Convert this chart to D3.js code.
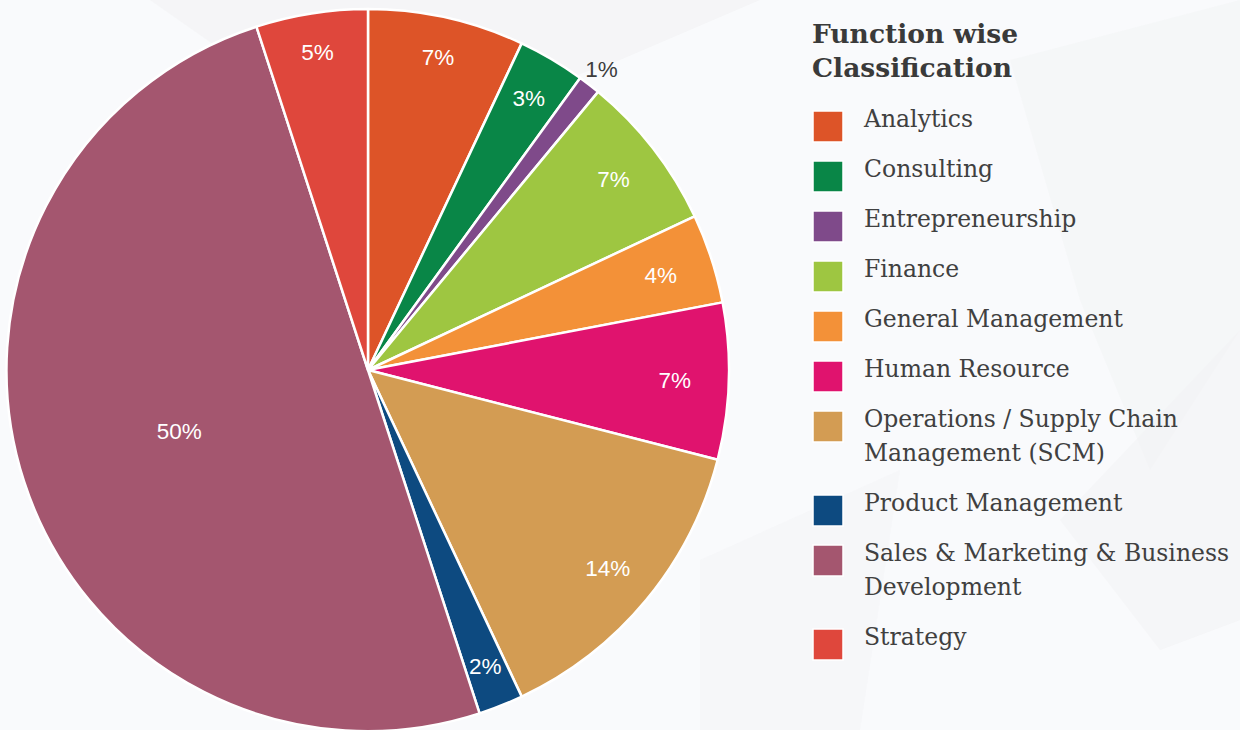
<!DOCTYPE html>
<html>
<head>
<meta charset="utf-8">
<script src="https://cdn.jsdelivr.net/npm/d3@7"></script>
<style>
  html, body { margin: 0; padding: 0; background: #f9fafc; }
  svg { display: block; }
</style>
</head>
<body>
<div id="chart"></div>
<script>
(() => {
    const W = 1240, H = 730;

    // data
    const categories = [
        "Analytics", "Consulting", "Entrepreneurship", "Finance", "General Management",
        "Human Resource", "Operations / Supply Chain Management (SCM)", "Product Management",
        "Sales & Marketing & Business Development", "Strategy"
    ];
    const shares = [7, 3, 1, 7, 4, 7, 14, 2, 50, 5];
    const colors = [
        "#dd5428", "#098647", "#7f4a8a", "#9ec641", "#f39138",
        "#e0136e", "#d39c53", "#0d4a80", "#a4566f", "#df473c"
    ];
    const titleLines = ["Function wise", "Classification"];

    const data = categories.map((c, i) => ({ name: c, value: shares[i], color: colors[i] }));

    const cx = 368, cy = 370, radius = 361;

    const svg = d3.select("#chart")
        .append("svg")
        .attr("width", W)
        .attr("height", H);

    // faint background shapes
    const bg = svg.append("g").attr("fill", "#f1f2f3");
    bg.append("polygon").attr("points", "150,0 760,0 620,60 420,130 250,70").attr("opacity", 0.6);
    bg.append("polygon").attr("points", "1010,60 1240,0 1240,330 1150,470 1080,300").attr("opacity", 0.4);
    bg.append("polygon").attr("points", "1060,520 1240,330 1240,620 1160,650").attr("opacity", 0.5);
    bg.append("polygon").attr("points", "700,560 900,470 860,730 700,730").attr("opacity", 0.35);

    const pie = d3.pie()
        .sort(null)
        .value(d => d.value);

    const arc = d3.arc()
        .innerRadius(0)
        .outerRadius(radius);

    const arcs = pie(data);

    const g = svg.append("g")
        .attr("transform", `translate(${cx},${cy})`);

    g.selectAll("path")
        .data(arcs)
        .enter()
        .append("path")
        .attr("d", arc)
        .attr("fill", d => d.data.color)
        .attr("stroke", "#ffffff")
        .attr("stroke-width", 2.5)
        .attr("stroke-linejoin", "round");

    // label radius: big slice near centroid, tiny slice outside, rest near the rim
    const midAngle = d => (d.startAngle + d.endAngle) / 2;
    const labelRadius = d => {
        if (d.data.value >= 40) return radius * 0.55;
        if (d.data.value <= 1) return radius * 1.055;
        return radius * 0.9 - 18 * Math.abs(Math.sin(midAngle(d)));
    };

    g.selectAll("text.pct")
        .data(arcs)
        .enter()
        .append("text")
        .attr("class", "pct")
        .attr("x", d => Math.sin(midAngle(d)) * labelRadius(d))
        .attr("y", d => -Math.cos(midAngle(d)) * labelRadius(d))
        .attr("dy", "0.35em")
        .attr("text-anchor", "middle")
        .style("font-family", "'Liberation Sans', Arial, sans-serif")
        .style("font-size", "22.5px")
        .attr("fill", d => d.data.value <= 1 ? "#3d3d3d" : "#ffffff")
        .text(d => `${d.data.value}%`);

    // legend
    const legend = svg.append("g")
        .attr("transform", "translate(812,0)");

    legend.selectAll("text.title")
        .data(titleLines)
        .enter()
        .append("text")
        .attr("class", "title")
        .attr("x", 0)
        .attr("y", (d, i) => 43 + i * 34)
        .style("font-family", "'DejaVu Serif', serif")
        .style("font-weight", "bold")
        .style("font-size", "26.5px")
        .attr("fill", "#3a3a3a")
        .text(d => d);

    const textX = 52, maxWidth = 1238 - 812 - textX;
    const lineStep = 34, itemStep = 50;
    let y = 127;

    data.forEach(d => {
        const item = legend.append("g");

        item.append("rect")
            .attr("x", 1)
            .attr("y", y - 16)
            .attr("width", 30)
            .attr("height", 31)
            .attr("fill", d.color)
            .attr("stroke", "#ffffff")
            .attr("stroke-width", 1.5);

        const text = item.append("text")
            .attr("x", textX)
            .attr("y", y)
            .style("font-family", "'DejaVu Serif', serif")
            .style("font-size", "23.5px")
            .attr("fill", "#404040");

        // simple word wrap
        const words = d.name.split(" ");
        let line = [];
        let tspan = text.append("tspan").attr("x", textX).attr("y", y);
        let lines = 1;
        words.forEach(w => {
            line.push(w);
            tspan.text(line.join(" "));
            if (tspan.node().getComputedTextLength() > maxWidth && line.length > 1) {
                line.pop();
                tspan.text(line.join(" "));
                line = [w];
                tspan = text.append("tspan")
                    .attr("x", textX)
                    .attr("y", y + lines * lineStep)
                    .text(w);
                lines++;
            }
        });

        y += itemStep + (lines - 1) * lineStep;
    });
})();
</script>
</body>
</html>
